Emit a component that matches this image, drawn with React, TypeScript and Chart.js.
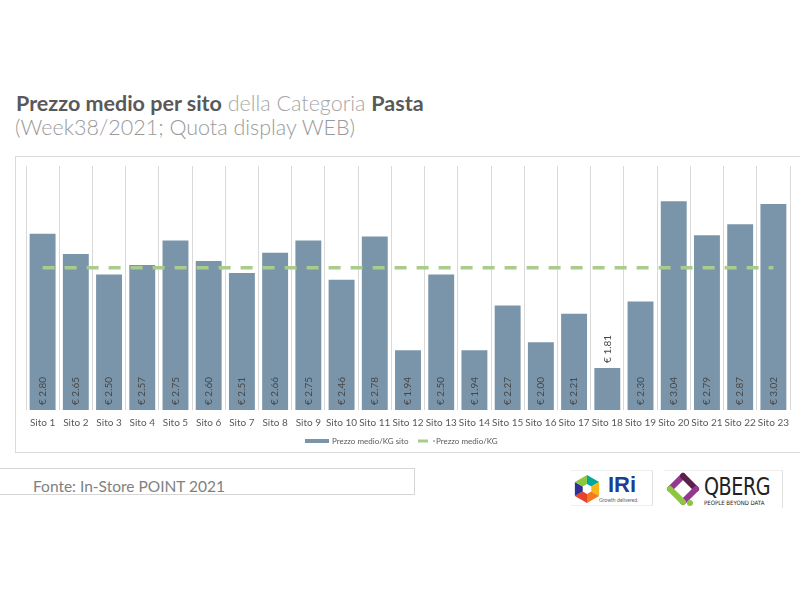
import React, { useEffect, useRef } from "react";
import { Chart, registerables } from "chart.js";

Chart.register(...registerables);

const categories = [
  "Sito 1", "Sito 2", "Sito 3", "Sito 4", "Sito 5", "Sito 6", "Sito 7", "Sito 8",
  "Sito 9", "Sito 10", "Sito 11", "Sito 12", "Sito 13", "Sito 14", "Sito 15", "Sito 16",
  "Sito 17", "Sito 18", "Sito 19", "Sito 20", "Sito 21", "Sito 22", "Sito 23",
];
const prezzoSito = [
  2.80, 2.65, 2.50, 2.57, 2.75, 2.60, 2.51, 2.66, 2.75, 2.46, 2.78, 1.94,
  2.50, 1.94, 2.27, 2.00, 2.21, 1.81, 2.30, 3.04, 2.79, 2.87, 3.02,
];
const prezzoMedio = [
  2.55, 2.55, 2.55, 2.55, 2.55, 2.55, 2.55, 2.55, 2.55, 2.55, 2.55, 2.55,
  2.55, 2.55, 2.55, 2.55, 2.55, 2.55, 2.55, 2.55, 2.55, 2.55, 2.55,
];
const seriesNames = ["Prezzo medio/KG sito", "Prezzo medio/KG"];
const yMin = 1.5;
const yMax = 3.3;

const FONT = 'Lato, "Open Sans", sans-serif';
const BAR_COLOR = "#7a95aa";
const LINE_COLOR = "#a9cc8c";
const TEXT_COLOR = "#595959";

const valueLabels = {
  id: "valueLabels",
  afterDraw(chart: any) {
    const ctx = chart.ctx;
    const meta = chart.getDatasetMeta(0);
    const bottom = chart.chartArea.bottom;
    const yScale = chart.scales.y;
    ctx.save();
    ctx.font = "10px " + FONT;
    ctx.fillStyle = "#474747";
    ctx.textBaseline = "middle";
    ctx.textAlign = "left";
    for (let i = 0; i < prezzoSito.length; i++) {
      const el = meta.data[i];
      if (!el) continue;
      const x = el.x;
      const top = yScale.getPixelForValue(prezzoSito[i]);
      const txt = "€ " + prezzoSito[i].toFixed(2);
      const h = bottom - top;
      ctx.save();
      if (h > 50) {
        ctx.translate(x, bottom - 5);
      } else {
        ctx.translate(x, top - 5);
      }
      ctx.rotate(-Math.PI / 2);
      ctx.fillText(txt, 0, 0);
      ctx.restore();
    }
    ctx.restore();
  },
};

const customLegend = {
  id: "customLegend",
  afterDraw(chart: any) {
    const ctx = chart.ctx;
    ctx.save();
    ctx.font = "8px " + FONT;
    ctx.textBaseline = "middle";
    ctx.textAlign = "left";
    const y = 285;
    ctx.fillStyle = BAR_COLOR;
    ctx.fillRect(290, y - 2, 24, 4);
    ctx.fillStyle = TEXT_COLOR;
    ctx.fillText(seriesNames[0], 317, y);
    ctx.fillStyle = LINE_COLOR;
    ctx.fillRect(403, y - 1.5, 10, 3);
    ctx.fillRect(418, y - 1, 2, 2);
    ctx.fillStyle = TEXT_COLOR;
    ctx.fillText(seriesNames[1], 421, y);
    ctx.restore();
  },
};

function IriLogo() {
  const cx = 14, cy = 16, r = 14;
  const pts = Array.from({ length: 6 }, (_, k) => {
    const a = (Math.PI / 3) * k - Math.PI / 2;
    return [cx + r * Math.cos(a), cy + r * Math.sin(a)];
  });
  const cols = ["#00a99d", "#f7b518", "#f47920", "#e8412c", "#2e3192", "#8dc63f"];
  return (
    <svg width={30} height={32} style={{ position: "absolute", left: 2, top: 2 }}>
      {pts.map((p, k) => {
        const q = pts[(k + 1) % 6];
        return <polygon key={k} points={`${cx},${cy} ${p[0]},${p[1]} ${q[0]},${q[1]}`} fill={cols[k]} />;
      })}
      <polygon
        points={pts.map((p) => `${cx + (p[0] - cx) * 0.35},${cy + (p[1] - cy) * 0.35}`).join(" ")}
        fill="#ffffff"
      />
    </svg>
  );
}

function QbergLogo() {
  return (
    <svg width={36} height={36} style={{ position: "absolute", left: 2, top: 1 }}>
      <line x1={4} y1={17} x2={17} y2={4} stroke="#93378f" strokeWidth={6} strokeLinecap="round" />
      <line x1={17} y1={4} x2={30} y2={17} stroke="#5c1f4a" strokeWidth={6} strokeLinecap="round" />
      <line x1={30} y1={17} x2={17} y2={30} stroke="#93378f" strokeWidth={6} strokeLinecap="round" />
      <line x1={17} y1={30} x2={4} y2={17} stroke="#8dc63f" strokeWidth={6} strokeLinecap="round" />
      <circle cx={24} cy={31} r={3} fill="#8dc63f" />
    </svg>
  );
}

export default function App() {
  const ref = useRef<HTMLCanvasElement>(null);

  useEffect(() => {
    if (!ref.current) return;
    const chart = new Chart(ref.current, {
      type: "bar",
      data: {
        labels: categories,
        datasets: [
          {
            type: "bar",
            label: seriesNames[0],
            data: prezzoSito,
            backgroundColor: BAR_COLOR,
            borderWidth: 0,
            barPercentage: 0.78,
            categoryPercentage: 1,
            order: 2,
          } as any,
          {
            type: "line",
            label: seriesNames[1],
            data: prezzoMedio,
            borderColor: LINE_COLOR,
            borderWidth: 3.5,
            borderDash: [12, 10],
            pointRadius: 0,
            fill: false,
            order: 1,
          } as any,
        ],
      },
      options: {
        responsive: false,
        animation: false,
        layout: { padding: { left: 11, right: 10, top: 10, bottom: 17 } },
        plugins: {
          legend: { display: false },
          tooltip: { enabled: false },
        },
        scales: {
          x: {
            offset: true,
            grid: { offset: true, color: "#d9d9d9", lineWidth: 1, drawTicks: false },
            border: { display: false },
            ticks: {
              padding: 7,
              autoSkip: false,
              maxRotation: 0,
              color: TEXT_COLOR,
              font: { family: FONT, size: 10 },
            },
          },
          y: {
            display: false,
            min: yMin,
            max: yMax,
          },
        },
      },
      plugins: [valueLabels, customLegend],
    });
    return () => chart.destroy();
  }, []);

  return (
    <div
      style={{
        position: "absolute",
        left: 0,
        top: 0,
        width: 800,
        height: 600,
        background: "#ffffff",
        overflow: "hidden",
        fontFamily: FONT,
      }}
    >
      <div
        style={{
          position: "absolute",
          left: 16,
          top: 91,
          fontSize: 21.5,
          lineHeight: "25px",
          whiteSpace: "nowrap",
          color: TEXT_COLOR,
        }}
      >
        <span style={{ fontWeight: 700 }}>Prezzo medio per sito</span>
        <span style={{ fontWeight: 300, color: "#a6a6a6" }}> della Categoria </span>
        <span style={{ fontWeight: 700 }}>Pasta</span>
      </div>
      <div
        style={{
          position: "absolute",
          left: 15,
          top: 115,
          fontSize: 21.5,
          lineHeight: "25px",
          whiteSpace: "nowrap",
          fontWeight: 300,
          color: "#9a9a9a",
        }}
      >
        (Week38/2021; Quota display WEB)
      </div>

      <div
        style={{
          position: "absolute",
          left: 15,
          top: 156,
          width: 800,
          height: 297,
          border: "1px solid #dadada",
          boxSizing: "border-box",
        }}
      />
      <canvas
        ref={ref}
        width={785}
        height={297}
        style={{ position: "absolute", left: 15, top: 156, width: 785, height: 297 }}
      />

      <div
        style={{
          position: "absolute",
          left: -2,
          top: 468,
          width: 417,
          height: 27,
          border: "1px solid #d6d6d6",
          boxSizing: "border-box",
        }}
      />
      <div
        style={{
          position: "absolute",
          left: 33,
          top: 476,
          fontSize: 15.5,
          lineHeight: "20px",
          color: "#7f7f7f",
          whiteSpace: "nowrap",
        }}
      >
        Fonte: In-Store POINT 2021
      </div>

      <div
        style={{
          position: "absolute",
          left: 571,
          top: 470,
          width: 82,
          height: 36,
          borderRight: "1px solid #e0e0e0",
          borderTop: "1px solid #eeeeee",
          borderBottom: "1px solid #eeeeee",
          boxSizing: "border-box",
        }}
      >
        <IriLogo />
        <div
          style={{
            position: "absolute",
            left: 37,
            top: 1,
            fontSize: 22,
            fontWeight: 700,
            color: "#1c3f94",
            fontFamily: '"Liberation Sans", sans-serif',
            lineHeight: "26px",
          }}
        >
          IRi
        </div>
        <div
          style={{
            position: "absolute",
            left: 28,
            top: 26,
            fontSize: 5,
            color: "#666",
            whiteSpace: "nowrap",
            lineHeight: "6px",
          }}
        >
          Growth delivered.
        </div>
      </div>

      <div
        style={{
          position: "absolute",
          left: 664,
          top: 470,
          width: 119,
          height: 38,
          borderRight: "1px solid #e0e0e0",
          borderTop: "1px solid #eeeeee",
          boxSizing: "border-box",
        }}
      >
        <QbergLogo />
        <div
          style={{
            position: "absolute",
            left: 40,
            top: 2,
            fontSize: 25,
            color: "#222",
            fontFamily: '"Liberation Sans Narrow", "DejaVu Sans Condensed", sans-serif',
            lineHeight: "28px",
            letterSpacing: -0.5,
            transform: "scaleX(0.85)",
            transformOrigin: "left top",
          }}
        >
          QBERG
        </div>
        <div
          style={{
            position: "absolute",
            left: 40,
            top: 28,
            fontSize: 6,
            color: "#222",
            whiteSpace: "nowrap",
            lineHeight: "7px",
            fontFamily: '"DejaVu Sans Condensed", sans-serif',
          }}
        >
          PEOPLE BEYOND DATA
        </div>
      </div>
    </div>
  );
}
